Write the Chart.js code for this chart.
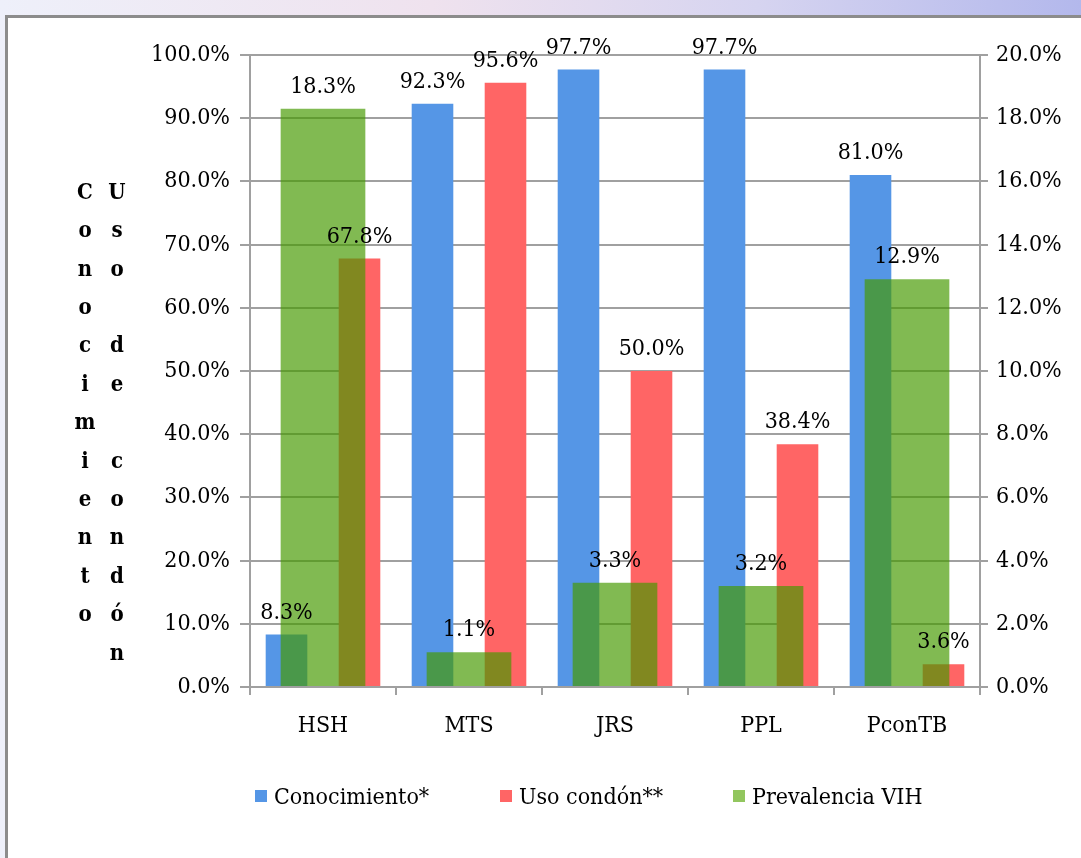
<!DOCTYPE html>
<html>
<head>
<meta charset="utf-8">
<script src="https://cdn.jsdelivr.net/npm/chart.js@4.4.1/dist/chart.umd.min.js"></script>
<style>
    html, body {
        margin: 0;
        padding: 0;
        width: 1081px;
        height: 858px;
        overflow: hidden;
        background: linear-gradient(to right, #eef0fa 0%, #efe2ee 40%, #d6d4f0 70%, #b3b8ec 100%);
        font-family: "DejaVu Serif Condensed", "Liberation Serif", serif;
    }
    #panel {
        position: absolute;
        left: 5px;
        top: 15px;
        width: 1090px;
        height: 860px;
        background: #fff;
        border: 3px solid #8c8c8c;
    }
    #grafico {
        position: absolute;
        left: 0;
        top: 0;
    }
    #leyenda {
        position: absolute;
        left: 255px;
        top: 783px;
        display: flex;
        align-items: center;
        font-size: 23px;
        color: #000;
    }
    .item {
        display: flex;
        align-items: center;
    }
    .cuadro {
        width: 12px;
        height: 12px;
        margin-right: 7px;
    }
</style>
</head>
<body>
<div id="panel"></div>
<canvas id="grafico" width="1081" height="858"></canvas>
<div id="leyenda"></div>

<script>
const categorias = ['HSH', 'MTS', 'JRS', 'PPL', 'PconTB'];
const conocimiento = [8.3, 92.3, 97.7, 97.7, 81.0];
const usoCondon = [67.8, 95.6, 50.0, 38.4, 3.6];
const prevalencia = [18.3, 1.1, 3.3, 3.2, 12.9];

const nombresSeries = ['Conocimiento*', 'Uso condón**', 'Prevalencia VIH'];
const coloresSeries = ['#5596e6', '#ff6565', 'rgba(70, 153, 0, 0.68)'];
const coloresLeyenda = ['#5596e6', '#ff6565', '#92c65e'];
const anchoItemsLeyenda = [245, 233, 200];

const tituloIzq = 'Conocimiento';
const tituloDer = 'Uso de condón';

const fuente = '"DejaVu Serif Condensed", "Liberation Serif", serif';

// etiquetas de valor encima de cada barra
const etiquetasValor = {
    id: 'etiquetasValor',
    afterDatasetsDraw(chart) {
        const ctx = chart.ctx;
        ctx.save();
        ctx.font = '23px ' + fuente;
        ctx.fillStyle = '#000';
        ctx.textAlign = 'center';
        ctx.textBaseline = 'alphabetic';
        chart.data.datasets.forEach((ds, i) => {
            const meta = chart.getDatasetMeta(i);
            meta.data.forEach((bar, j) => {
                ctx.fillText(ds.data[j].toFixed(1) + '%', bar.x, bar.y - 16);
            });
        });
        ctx.restore();
    }
};

// titulos verticales, una letra por linea
const titulosVerticales = {
    id: 'titulosVerticales',
    afterDraw(chart) {
        const ctx = chart.ctx;
        ctx.save();
        ctx.font = 'bold 22px ' + fuente;
        ctx.fillStyle = '#000';
        ctx.textAlign = 'center';
        ctx.textBaseline = 'middle';
        const paso = 38.4;
        const inicio = 193;
        [...tituloIzq].forEach((letra, i) => ctx.fillText(letra, 85, inicio + i * paso));
        [...tituloDer].forEach((letra, i) => ctx.fillText(letra, 117, inicio + i * paso));
        ctx.restore();
    }
};

const ctx = document.getElementById('grafico').getContext('2d');

var chart = new Chart(ctx, {
    type: 'bar',
    data: {
        labels: categorias,
        datasets: [{
            label: nombresSeries[0],
            data: conocimiento,
            backgroundColor: coloresSeries[0],
            yAxisID: 'y',
            order: 1,
            categoryPercentage: 1.0,
            barPercentage: 0.57
        }, {
            label: nombresSeries[1],
            data: usoCondon,
            backgroundColor: coloresSeries[1],
            yAxisID: 'y',
            order: 1,
            categoryPercentage: 1.0,
            barPercentage: 0.57
        }, {
            label: nombresSeries[2],
            data: prevalencia,
            backgroundColor: coloresSeries[2],
            yAxisID: 'y1',
            order: 0,
            grouped: false,
            categoryPercentage: 1.0,
            barPercentage: 0.58
        }]
    },
    options: {
        responsive: false,
        animation: false,
        layout: {
            padding: { top: 55, left: 0, right: 0, bottom: 101 }
        },
        plugins: {
            legend: { display: false },
            tooltip: { enabled: false }
        },
        scales: {
            x: {
                grid: {
                    offset: true,
                    drawOnChartArea: false,
                    drawTicks: true,
                    tickLength: 8,
                    color: '#a0a0a0',
                    lineWidth: 2
                },
                border: { color: '#a0a0a0', width: 2 },
                ticks: {
                    color: '#000',
                    font: { family: fuente, size: 23 },
                    padding: 17
                },
                afterFit(scale) {
                    scale.height = 70;
                }
            },
            y: {
                position: 'left',
                min: 0,
                max: 100,
                grid: {
                    color: '#a0a0a0',
                    lineWidth: 2,
                    tickLength: 10
                },
                border: { color: '#a0a0a0', width: 2 },
                ticks: {
                    stepSize: 10,
                    color: '#000',
                    font: { family: fuente, size: 23 },
                    padding: 10,
                    callback: v => v.toFixed(1) + '%'
                },
                afterFit(scale) {
                    scale.width = 250;
                }
            },
            y1: {
                position: 'right',
                min: 0,
                max: 20,
                grid: {
                    drawOnChartArea: false,
                    color: '#a0a0a0',
                    lineWidth: 2,
                    tickLength: 8
                },
                border: { color: '#a0a0a0', width: 2 },
                ticks: {
                    stepSize: 2,
                    color: '#000',
                    font: { family: fuente, size: 23 },
                    padding: 8,
                    callback: v => v.toFixed(1) + '%'
                },
                afterFit(scale) {
                    scale.width = 101;
                }
            }
        }
    },
    plugins: [etiquetasValor, titulosVerticales]
});

// leyenda en html
const leyenda = document.getElementById('leyenda');
nombresSeries.forEach((nombre, i) => {
    const item = document.createElement('div');
    item.className = 'item';
    item.style.width = anchoItemsLeyenda[i] + 'px';
    const cuadro = document.createElement('span');
    cuadro.className = 'cuadro';
    cuadro.style.background = coloresLeyenda[i];
    const texto = document.createElement('span');
    texto.textContent = nombre;
    item.appendChild(cuadro);
    item.appendChild(texto);
    leyenda.appendChild(item);
});
</script>
</body>
</html>
